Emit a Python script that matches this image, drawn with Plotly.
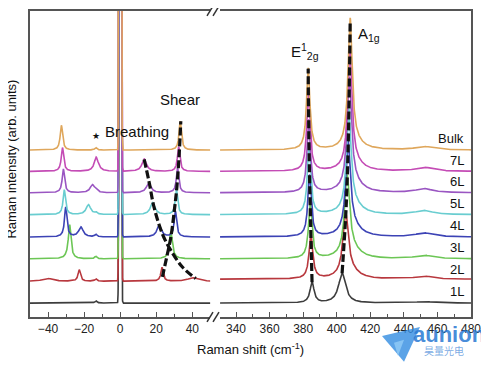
import numpy as np
import plotly.graph_objects as go

# ---------------- data ----------------
layers = ["1L", "2L", "3L", "4L", "5L", "6L", "7L", "Bulk"]
colors = ["#3d3d3d", "#b8383e", "#6cc655", "#3c43b5", "#69cdd0", "#9a56c2", "#c44cb5", "#dfa75c"]
offsets = [14, 36, 58.5, 80.5, 103, 125, 146.5, 168]

# low-frequency region (cm-1): Stokes / anti-Stokes shear and breathing modes
shear_pos_s = [None, 23.2, 28.0, 30.6, 31.2, 31.8, 32.4, 33.3]
shear_amp_s = [0, 14, 22, 26, 25, 25, 25, 29]
shear_pos_as = [None, -22.7, -28.0, -30.2, -31.0, -31.5, -32.0, -32.6]
shear_amp_as = [0, 11.5, 30, 30, 25, 24, 24, 25]
breath_pos_s = [None, 40.0, 28.5, 21.6, 18.0, 15.8, 13.3, None]
breath_amp_s = [0, 3.5, 6, 11.5, 12, 10, 12.5, 0]
breath_pos_as = [None, -40.4, -28.5, -21.8, -17.6, -15.4, -13.2, None]
breath_amp_as = [0, 3, 5, 10, 10, 8, 12.5, 0]
plasma_pos = -13.5
plasma_amp = [2.5, 2.5, 2.5, 2.5, 2.0, 2.0, 2.0, 2.5]
rayleigh_amp = 3000

# high-frequency region (cm-1)
e2g_pos = [385.3, 384.6, 384.2, 383.8, 383.5, 383.3, 383.1, 383.0]
e2g_amp = [21, 45, 55, 62, 68, 73, 78, 82]
e2g_hw = [1.4, 1.3, 1.25, 1.2, 1.2, 1.2, 1.2, 1.2]
a1g_pos = [403.2, 405.3, 406.2, 406.8, 407.2, 407.5, 407.8, 408.0]
a1g_amp = [30, 62, 78, 90, 100, 110, 120, 128]
a1g_hw = [2.5, 1.9, 1.8, 1.7, 1.6, 1.6, 1.5, 1.5]
shoulder_amp = [0, 7, 8, 8, 8, 8, 7, 6]
la_pos = 452.0
la_amp = [1.5, 3, 3.5, 4, 4, 4, 4, 3.5]
right_bg = [0, 2, 0, 0, 0, 0, 0, 0]

# dashed guide lines
shear_guide_x = [23.4, 26.2, 28.1, 30.0, 31.4, 32.7, 33.6]
shear_guide_y = [40.3, 63.7, 80.3, 107, 130.3, 163.7, 197]
breath_guide_x = [13.3, 16.1, 18.8, 23.4, 28.1, 34.5, 41.9]
breath_guide_y = [158.7, 135.3, 110.3, 83.7, 67, 50.3, 38.7]

left_ticks = [-40, -20, 0, 20, 40]
right_ticks = [340, 360, 380, 400, 420, 440, 460, 480]


def lor(x, x0, a, w):
    return a * w * w / ((x - x0) ** 2 + w * w)


xl = np.round(np.arange(-50, 50.001, 0.05), 3)
xr = np.round(np.arange(330.5, 480.001, 0.1), 3)

fig = go.Figure()
FONT = "Arial, Liberation Sans, sans-serif"

for i, name in enumerate(layers):
    yl = np.full_like(xl, offsets[i], dtype=float)
    yl += rayleigh_amp * np.exp(-(xl ** 2) / (2 * 0.35 ** 2))
    yl += lor(xl, plasma_pos, plasma_amp[i], 0.7)
    if shear_pos_s[i] is not None:
        yl += lor(xl, shear_pos_s[i], shear_amp_s[i], 0.8)
        yl += lor(xl, shear_pos_as[i], shear_amp_as[i], 0.8)
    if breath_pos_s[i] is not None:
        bw = 3.0 if name == "2L" else 1.5
        yl += lor(xl, breath_pos_s[i], breath_amp_s[i], bw)
        yl += lor(xl, breath_pos_as[i], breath_amp_as[i], bw)
    fig.add_trace(go.Scatter(x=xl, y=yl, mode="lines", line=dict(color=colors[i], width=1.6),
                             xaxis="x", yaxis="y", showlegend=False, hoverinfo="skip"))

    yr = np.full_like(xr, offsets[i] + right_bg[i], dtype=float)
    yr += lor(xr, e2g_pos[i], e2g_amp[i], e2g_hw[i])
    yr += lor(xr, a1g_pos[i], a1g_amp[i], a1g_hw[i])
    yr += lor(xr, a1g_pos[i] + 3, shoulder_amp[i], 6)
    yr += lor(xr, la_pos, la_amp[i], 6)
    fig.add_trace(go.Scatter(x=xr, y=yr, mode="lines", line=dict(color=colors[i], width=1.6),
                             xaxis="x2", yaxis="y2", showlegend=False, hoverinfo="skip"))

dash_line = dict(color="#111111", width=3.2, dash="8px,3px")
fig.add_trace(go.Scatter(x=shear_guide_x, y=shear_guide_y, mode="lines", line=dash_line,
                         line_shape="spline", xaxis="x", yaxis="y", showlegend=False))
fig.add_trace(go.Scatter(x=breath_guide_x, y=breath_guide_y, mode="lines", line=dash_line,
                         line_shape="spline", xaxis="x", yaxis="y", showlegend=False))
e_tops = [offsets[i] + right_bg[i] + e2g_amp[i] for i in range(len(layers))]
a_tops = [offsets[i] + right_bg[i] + a1g_amp[i] for i in range(len(layers))]
fig.add_trace(go.Scatter(x=e2g_pos, y=e_tops, mode="lines", line=dash_line,
                         line_shape="spline", xaxis="x2", yaxis="y2", showlegend=False))
fig.add_trace(go.Scatter(x=a1g_pos, y=a_tops, mode="lines", line=dash_line,
                         line_shape="spline", xaxis="x2", yaxis="y2", showlegend=False))

axis_common = dict(showline=True, linecolor="#555555", linewidth=1.5, mirror=True,
                   ticks="inside", ticklen=5, tickwidth=1.3, tickcolor="#555555",
                   minor=dict(dtick=10, ticks="inside", ticklen=3, tickwidth=1.2, tickcolor="#555555"),
                   showgrid=False, zeroline=False,
                   tickfont=dict(family=FONT, size=12, color="#222222"))

# page body adds an 8 px offset, so the margins compensate for it
fig.update_layout(
    width=489, height=365,
    margin=dict(l=22, r=26, t=1, b=56),
    paper_bgcolor="white", plot_bgcolor="white",
    xaxis=dict(domain=[0, 0.409], range=[-50, 50], tickvals=left_ticks, anchor="y", **axis_common),
    xaxis2=dict(domain=[0.431, 1], range=[330.5, 480], tickvals=right_ticks, anchor="y2", **axis_common),
    yaxis=dict(range=[0, 308], showline=True, linecolor="#555555", linewidth=1.5, mirror=False,
               ticks="", showticklabels=False, showgrid=False, zeroline=False, anchor="x"),
    yaxis2=dict(range=[0, 308], showline=True, linecolor="#555555", linewidth=1.5, mirror=False,
                side="right", ticks="", showticklabels=False, showgrid=False, zeroline=False,
                anchor="x2"),
    showlegend=False,
)

ann = []
ann.append(dict(text="Raman shift (cm<sup>-1</sup>)", xref="paper", yref="paper", x=0.501, y=-0.105,
                xanchor="center", yanchor="middle",
                showarrow=False, font=dict(family=FONT, size=13, color="#111")))
ann.append(dict(text="Raman intensity (arb. units)", xref="paper", yref="paper", x=-0.042, y=0.516,
                xanchor="center", yanchor="middle",
                textangle=-90, showarrow=False, font=dict(family=FONT, size=13, color="#111")))
ann.append(dict(text="Breathing", xref="x", yref="y", x=9.4, y=187, showarrow=False,
                font=dict(family=FONT, size=15, color="#111")))
ann.append(dict(text="★", xref="x", yref="y", x=-13.3, y=182, showarrow=False,
                font=dict(family="DejaVu Sans", size=9, color="#111")))
ann.append(dict(text="Shear", xref="x", yref="y", x=33.2, y=219, showarrow=False,
                font=dict(family=FONT, size=15, color="#111")))
ann.append(dict(text="E<sup>1</sup><sub>2g</sub>", xref="x2", yref="y2", x=371.5, y=267, xanchor="left",
                showarrow=False, font=dict(family=FONT, size=15, color="#111")))
ann.append(dict(text="A<sub>1g</sub>", xref="x2", yref="y2", x=411.6, y=284, xanchor="left",
                showarrow=False, font=dict(family=FONT, size=15, color="#111")))
for i, name in enumerate(layers):
    ann.append(dict(text=name, xref="x2", yref="y2", x=477, y=offsets[i] + 11.5, xanchor="right",
                    yanchor="middle", showarrow=False, font=dict(family=FONT, size=13, color="#111")))
# watermark
ann.append(dict(text="<b>aunion</b>", xref="paper", yref="paper", x=0.865, y=-0.058, xanchor="left",
                yanchor="middle", showarrow=False,
                font=dict(family="Arial, Liberation Sans", size=22, color="rgba(40,120,210,0.85)")))
ann.append(dict(text="昊量光电", xref="paper", yref="paper", x=0.89, y=-0.11, xanchor="left",
                yanchor="middle", showarrow=False,
                font=dict(family="Noto Sans CJK SC", size=10, color="rgba(90,150,220,0.8)")))
fig.update_layout(annotations=ann)


def px(xp, yp):
    return (xp - 30) / 441, (317 - yp) / 308


shapes = []
for ytop in (317, 9):
    for x0 in (207, 213):
        a = px(x0, ytop + 5)
        b = px(x0 + 6, ytop - 5)
        shapes.append(dict(type="line", xref="paper", yref="paper", x0=a[0], y0=a[1], x1=b[0], y1=b[1],
                           line=dict(color="#333333", width=1.5)))
p1, p2, p3 = px(382, 336), px(420, 327), px(404, 362)
q1, q2, q3 = px(394, 343), px(404, 340), px(398, 356)
shapes.append(dict(type="path", xref="paper", yref="paper",
                   path=f"M {p1[0]},{p1[1]} L {p2[0]},{p2[1]} L {p3[0]},{p3[1]} Z",
                   fillcolor="rgba(50,140,225,0.8)", line=dict(width=0)))
shapes.append(dict(type="path", xref="paper", yref="paper",
                   path=f"M {q1[0]},{q1[1]} L {q2[0]},{q2[1]} L {q3[0]},{q3[1]} Z",
                   fillcolor="rgba(140,200,245,0.9)", line=dict(width=0)))
fig.update_layout(shapes=shapes)

fig.write_html("out.html")
